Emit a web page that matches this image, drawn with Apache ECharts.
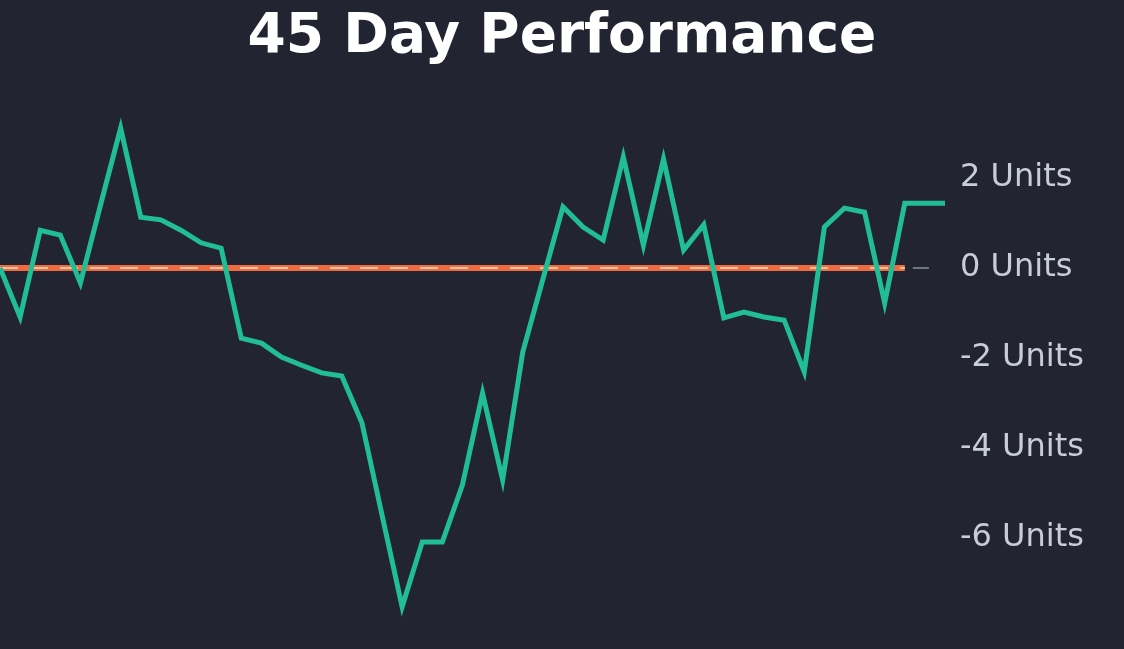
<!DOCTYPE html>
<html>
<head>
<meta charset="utf-8">
<script src="https://cdn.jsdelivr.net/npm/echarts@6/dist/echarts.min.js"></script>
<style>
html,body{margin:0;padding:0;background:#222531;}
#chart{width:1124px;height:649px;}
</style>
</head>
<body>
<div id="chart"></div>
<script>
const titleText = '45 Day Performance';
const performance = [0.0, -1.09, 0.84, 0.73, -0.33, 1.4, 3.11, 1.13, 1.07, 0.84, 0.56, 0.44,
  -1.56, -1.67, -1.98, -2.16, -2.33, -2.4, -3.44, -5.49, -7.53, -6.09, -6.09, -4.82,
  -2.78, -4.71, -1.87, -0.25, 1.36, 0.91, 0.62, 2.47, 0.51, 2.42, 0.4, 0.96,
  -1.11, -0.98, -1.09, -1.16, -2.31, 0.91, 1.33, 1.24, -0.78, 1.44, 1.44, 1.44];
const yTicks = [-6, -4, -2, 0, 2];
const unitSuffix = ' Units';
const baselineValue = 0;
const baselineEndIndex = 45;

const chart = echarts.init(document.getElementById('chart'));
const seriesData = performance.map((v, i) => [i, v]);
chart.setOption({
  backgroundColor: '#222531',
  animation: false,
  title: {
    text: titleText,
    left: 'center',
    top: 5,
    textStyle: {color: '#ffffff', fontSize: 55, fontWeight: 'bold', fontFamily: 'DejaVu Sans'}
  },
  grid: {left: 0, right: 179, top: 88, bottom: 21},
  xAxis: {
    type: 'value', min: 0, max: performance.length - 1,
    show: false
  },
  yAxis: {
    type: 'value', position: 'right', min: -8, max: 4, interval: 2,
    splitLine: {show: false},
    axisLine: {show: false},
    axisTick: {show: false},
    axisLabel: {
      color: '#c9cdd8', fontSize: 32, fontFamily: 'DejaVu Sans', margin: 15,
      padding: [8, 0, 0, 0],
      formatter: v => yTicks.indexOf(v) >= 0 ? v + unitSuffix : ''
    }
  },
  series: [
    {
      type: 'line',
      data: [[0, baselineValue], [baselineEndIndex, baselineValue]],
      showSymbol: false,
      silent: true,
      z: 1,
      lineStyle: {color: '#ef6c43', width: 6, cap: 'butt'}
    },
    {
      type: 'line',
      data: [[0, baselineValue], [baselineEndIndex, baselineValue]],
      showSymbol: false,
      silent: true,
      z: 2,
      lineStyle: {color: '#f6c3a0', width: 2, type: [18, 12]}
    },
    {
      type: 'line',
      data: [[baselineEndIndex + 0.4, baselineValue], [baselineEndIndex + 1.2, baselineValue]],
      showSymbol: false,
      silent: true,
      z: 2,
      lineStyle: {color: '#8a8f9c', width: 1.5}
    },
    {
      type: 'line',
      data: seriesData,
      showSymbol: false,
      z: 3,
      lineStyle: {color: '#21bd95', width: 5, cap: 'butt', join: 'miter'}
    }
  ]
});
</script>
</body>
</html>
